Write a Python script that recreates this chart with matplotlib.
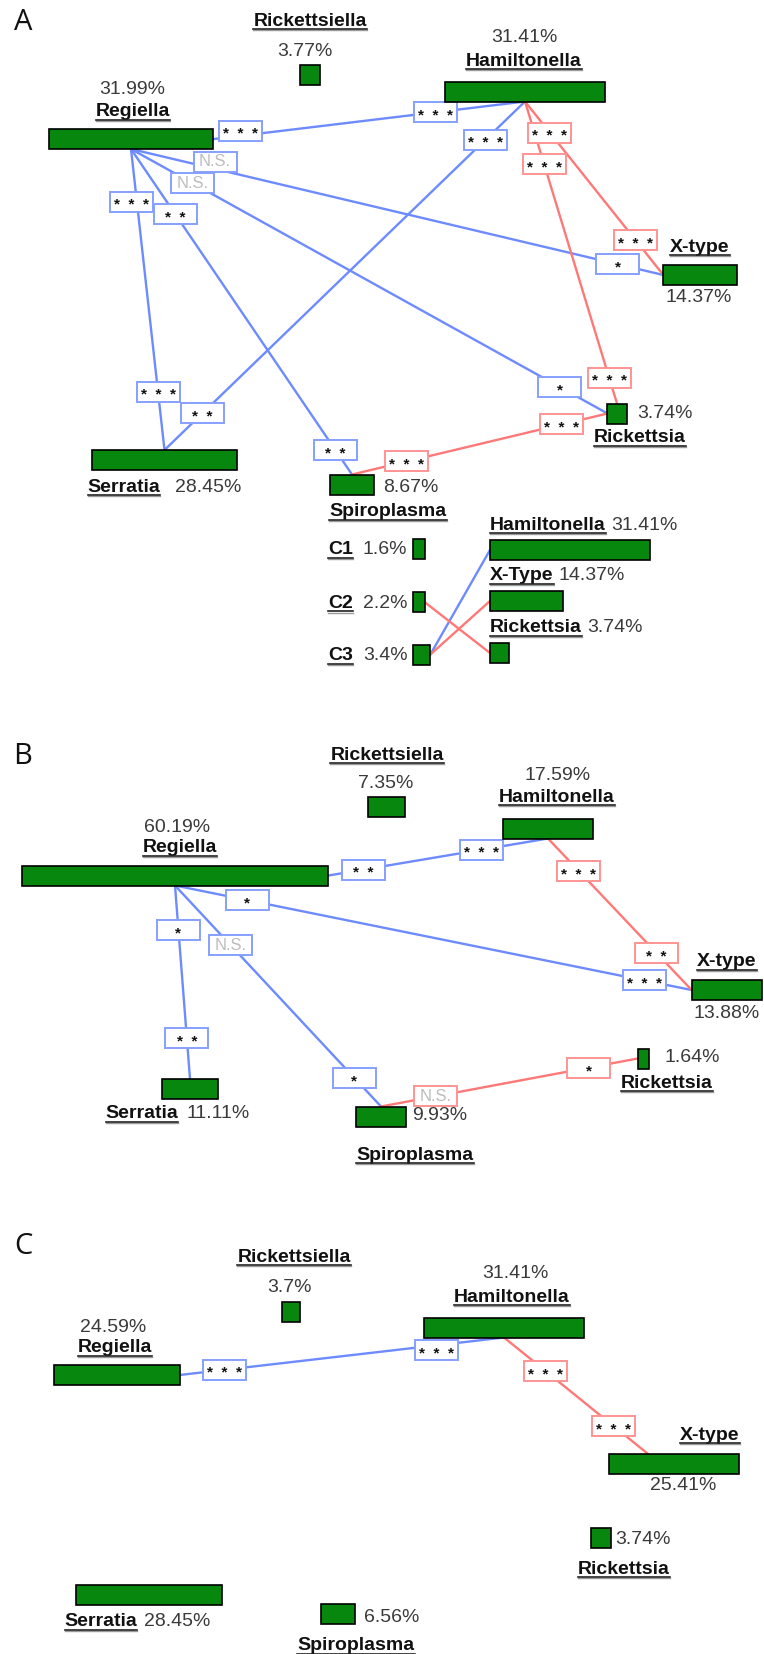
"""Symbiont co-occurrence networks for three sample sets (A, B, C)."""
import matplotlib
matplotlib.use("Agg")
import matplotlib.pyplot as plt
from matplotlib.patches import Rectangle

FIG_W, FIG_H = 764, 1654
PX_PER_PCT = 5.1
MIN_BAR = 11.5
BAR_H = 20

GREEN = "#07870d"
LINE = {"+": "#6d8bff", "-": "#ff7878"}
BOX_EDGE = {"+": "#86a0ff", "-": "#ff9494"}
SANS = ["Liberation Sans", "DejaVu Sans"]

# bar anchor points, as fractions of the bar box (x right, y down)
TOP, BOTTOM, LEFT, RIGHT = (0.5, 0.0), (0.5, 1.0), (0.0, 0.5), (1.0, 0.5)
NO_SHIFT = (0, 0)

# ---------------- data ----------------
taxa = ["Rickettsiella", "Regiella", "Hamiltonella", "X-type",
        "Rickettsia", "Serratia", "Spiroplasma"]

a_pct = [3.77, 31.99, 31.41, 14.37, 3.74, 28.45, 8.67]
a_pairs = [("Regiella", "Hamiltonella"), ("Regiella", "X-type"),
           ("Regiella", "Rickettsia"), ("Regiella", "Serratia"),
           ("Regiella", "Spiroplasma"), ("Hamiltonella", "Serratia"),
           ("Hamiltonella", "X-type"), ("Hamiltonella", "Rickettsia"),
           ("Spiroplasma", "Rickettsia")]
a_direction = ["+", "+", "+", "+", "+", "+", "-", "-", "-"]
a_sig = [("***", "***"), ("N.S.", "*"), ("N.S.", "*"), ("***", "***"),
         ("**", "**"), ("***", "**"), ("***", "***"), ("***", "***"),
         ("***", "***")]

inset_groups = ["C1", "C2", "C3"]
inset_group_pct = [1.6, 2.2, 3.4]
inset_taxa = ["Hamiltonella", "X-Type", "Rickettsia"]
inset_taxa_pct = [31.41, 14.37, 3.74]
inset_links = [("C3", "Hamiltonella"), ("C3", "X-Type"), ("C2", "Rickettsia")]
inset_direction = ["+", "-", "-"]

b_pct = [7.35, 60.19, 17.59, 13.88, 1.64, 11.11, 9.93]
b_pairs = [("Regiella", "Hamiltonella"), ("Regiella", "X-type"),
           ("Regiella", "Serratia"), ("Regiella", "Spiroplasma"),
           ("Hamiltonella", "X-type"), ("Spiroplasma", "Rickettsia")]
b_direction = ["+", "+", "+", "+", "-", "-"]
b_sig = [("**", "***"), ("*", "***"), ("*", "**"), ("N.S.", "*"),
         ("***", "**"), ("N.S.", "*")]

c_pct = [3.7, 24.59, 31.41, 25.41, 3.74, 28.45, 6.56]
c_pairs = [("Regiella", "Hamiltonella"), ("Hamiltonella", "X-type")]
c_direction = ["+", "-"]
c_sig = [("***", "***"), ("***", "***")]

# ---------------- layout (pixels, y down) ----------------
a_layout = {
    "Rickettsiella": dict(bar=(310, 74.5), name=(310, 21, "center"), pct=(305, 51, "center")),
    "Regiella": dict(bar=(131, 139), name=(133, 112, "center"), pct=(132, 90, "center")),
    "Hamiltonella": dict(bar=(525, 91.5), name=(524, 61, "center"), pct=(524, 37, "center")),
    "X-type": dict(bar=(700, 275), name=(700, 247, "center"), pct=(699, 298, "center")),
    "Rickettsia": dict(bar=(617, 413.5), name=(640, 438, "center"), pct=(637, 414, "left")),
    "Serratia": dict(bar=(164.5, 460), name=(124, 487, "center"), pct=(175, 487, "left")),
    "Spiroplasma": dict(bar=(352, 484.5), name=(388, 512, "center"), pct=(383, 488, "left")),
}
# (anchor 1, anchor 2, label 1 position, label 2 position, label 1 shift, label 2 shift)
a_edges = [(BOTTOM, BOTTOM, 0.277, 0.774, (0, -5), NO_SHIFT),
           (BOTTOM, LEFT, 0.158, 0.914, (0, -7), NO_SHIFT),
           (BOTTOM, LEFT, 0.13, 0.90, NO_SHIFT, NO_SHIFT),
           (BOTTOM, TOP, 0.176, 0.807, (-5, 0), NO_SHIFT),
           (BOTTOM, TOP, 0.2, 0.925, NO_SHIFT, NO_SHIFT),
           (BOTTOM, TOP, 0.11, 0.894, NO_SHIFT, NO_SHIFT),
           (BOTTOM, LEFT, 0.18, 0.80, NO_SHIFT, NO_SHIFT),
           (BOTTOM, TOP, 0.207, 0.914, NO_SHIFT, NO_SHIFT),
           (TOP, LEFT, 0.215, 0.82, NO_SHIFT, NO_SHIFT)]

b_layout = {
    "Rickettsiella": dict(bar=(386.5, 806.5), name=(387, 755, "center"), pct=(386, 784, "center")),
    "Regiella": dict(bar=(175, 875.5), name=(180, 848, "center"), pct=(177, 827, "center")),
    "Hamiltonella": dict(bar=(548, 828.5), name=(557, 797, "center"), pct=(558, 775, "center")),
    "X-type": dict(bar=(727, 990), name=(727, 962, "center"), pct=(727, 1014, "center")),
    "Rickettsia": dict(bar=(643.5, 1058.5), name=(667, 1083, "center"), pct=(665, 1058, "left")),
    "Serratia": dict(bar=(190, 1089), name=(142, 1114, "center"), pct=(187, 1114, "left")),
    "Spiroplasma": dict(bar=(381, 1116.5), name=(415, 1155, "center"), pct=(412, 1116, "left")),
}
b_edges = [(RIGHT, BOTTOM, 0.16, 0.695, NO_SHIFT, NO_SHIFT),
           (BOTTOM, LEFT, 0.14, 0.908, NO_SHIFT, NO_SHIFT),
           (BOTTOM, TOP, 0.23, 0.79, NO_SHIFT, NO_SHIFT),
           (BOTTOM, TOP, 0.27, 0.87, NO_SHIFT, NO_SHIFT),
           (BOTTOM, LEFT, 0.215, 0.756, NO_SHIFT, NO_SHIFT),
           (TOP, LEFT, 0.214, 0.81, NO_SHIFT, NO_SHIFT)]

c_layout = {
    "Rickettsiella": dict(bar=(291, 1311.5), name=(294, 1257, "center"), pct=(289, 1287, "center")),
    "Regiella": dict(bar=(117, 1375), name=(115, 1348, "center"), pct=(113, 1327, "center")),
    "Hamiltonella": dict(bar=(504, 1327.5), name=(512, 1297, "center"), pct=(515, 1274, "center")),
    "X-type": dict(bar=(674, 1464), name=(710, 1435, "center"), pct=(683, 1486, "center")),
    "Rickettsia": dict(bar=(601, 1537.5), name=(624, 1569, "center"), pct=(615, 1540, "left")),
    "Serratia": dict(bar=(149, 1595), name=(101, 1622, "center"), pct=(144, 1622, "left")),
    "Spiroplasma": dict(bar=(338, 1613.5), name=(356, 1646, "center"), pct=(364, 1617, "left")),
}
c_edges = [(RIGHT, BOTTOM, 0.137, 0.793, NO_SHIFT, (0, 5)),
           (BOTTOM, (0.3, 0.0), 0.29, 0.76, NO_SHIFT, NO_SHIFT)]


def bar_width(pct):
    return max(pct * PX_PER_PCT, MIN_BAR)


def draw_bar(ax, x0, cy, pct):
    w = bar_width(pct)
    ax.add_patch(Rectangle((x0, cy - BAR_H / 2), w, BAR_H, facecolor=GREEN,
                           edgecolor="black", linewidth=1.2, zorder=4))
    return (x0, cy - BAR_H / 2, w, BAR_H)


def anchor(box, frac):
    x0, y0, w, h = box
    return x0 + frac[0] * w, y0 + frac[1] * h


def name_text(ax, x, y, s, ha="center"):
    return ax.text(x, y, s, ha=ha, va="center", fontsize=14, fontweight="bold",
                   color="#111111", family=SANS, zorder=6)


def pct_text(ax, x, y, value, ha="center"):
    return ax.text(x, y, f"{value:g}%", ha=ha, va="center", fontsize=14,
                   color="#3a3a3a", family=SANS, zorder=6)


def sig_box(ax, x, y, sig, direction):
    ax.add_patch(Rectangle((x - 21.5, y - 10), 43, 20, facecolor="white",
                           edgecolor=BOX_EDGE[direction], linewidth=1.4, zorder=3))
    if sig == "N.S.":
        ax.text(x, y, sig, ha="center", va="center", fontsize=12,
                color="#bdbdbd", family=SANS, zorder=5)
    else:
        stars = "  ".join("*" * len(sig))
        ax.text(x, y + 7.5, stars, ha="center", va="baseline", fontsize=11,
                fontweight="bold", color="#111111", family=SANS, zorder=5)


def draw_panel(ax, pct, layout, pairs, direction, sig, edges):
    boxes, names = {}, []
    for taxon, value in zip(taxa, pct):
        spec = layout[taxon]
        cx, cy = spec["bar"]
        boxes[taxon] = draw_bar(ax, cx - bar_width(value) / 2, cy, value)
        nx, ny, nha = spec["name"]
        names.append(name_text(ax, nx, ny, taxon, nha))
        px, py, pha = spec["pct"]
        pct_text(ax, px, py, value, pha)
    for (n1, n2), d, (s1, s2), (a1, a2, t1, t2, o1, o2) in zip(pairs, direction, sig, edges):
        x1, y1 = anchor(boxes[n1], a1)
        x2, y2 = anchor(boxes[n2], a2)
        ax.plot([x1, x2], [y1, y2], color=LINE[d], linewidth=1.7,
                solid_capstyle="round", zorder=2)
        for t, s, (dx, dy) in ((t1, s1, o1), (t2, s2, o2)):
            sig_box(ax, x1 + t * (x2 - x1) + dx, y1 + t * (y2 - y1) + dy, s, d)
    return names


fig = plt.figure(figsize=(FIG_W / 100, FIG_H / 100), dpi=100)
ax = fig.add_axes([0, 0, 1, 1])
ax.set_xlim(0, FIG_W)
ax.set_ylim(FIG_H, 0)
ax.axis("off")

underlined = []
underlined += draw_panel(ax, a_pct, a_layout, a_pairs, a_direction, a_sig, a_edges)
underlined += draw_panel(ax, b_pct, b_layout, b_pairs, b_direction, b_sig, b_edges)
underlined += draw_panel(ax, c_pct, c_layout, c_pairs, c_direction, c_sig, c_edges)

for letter, (lx, ly) in zip("ABC", [(23, 22), (23, 757), (23, 1247)]):
    ax.text(lx, ly, letter, ha="center", va="center", fontsize=21,
            family=["Open Sans", "DejaVu Sans"], color="#111111")

# inset of panel A: clusters linked to the main symbionts
group_boxes, taxon_boxes = {}, {}
for g, value, gy in zip(inset_groups, inset_group_pct, [548.5, 602, 654.5]):
    group_boxes[g] = draw_bar(ax, 413, gy, value)
    underlined.append(name_text(ax, 328, gy + 1.5, g, "left"))
    pct_text(ax, 363, gy + 1.5, value, "left")

inset_names = []
for tname, value, ty in zip(inset_taxa, inset_taxa_pct, [550, 601, 653]):
    taxon_boxes[tname] = draw_bar(ax, 490, ty, value)
    inset_names.append((name_text(ax, 490, ty - 25, tname, "left"), value))
underlined += [t for t, _ in inset_names]

for (g, tname), d in zip(inset_links, inset_direction):
    x1, y1 = anchor(group_boxes[g], RIGHT)
    x2, y2 = anchor(taxon_boxes[tname], LEFT)
    ax.plot([x1, x2], [y1, y2], color=LINE[d], linewidth=1.7, zorder=2)

fig.canvas.draw()
renderer = fig.canvas.get_renderer()
inv = ax.transData.inverted()

# percentages following the inset names
for t, value in inset_names:
    bb = t.get_window_extent(renderer)
    x_end = inv.transform((bb.x1, bb.y0))[0]
    pct_text(ax, x_end + 5, t.get_position()[1], value, "left")

# underline every taxon name
for t in underlined:
    bb = t.get_window_extent(renderer)
    (ux0, uy), (ux1, _) = inv.transform([(bb.x0, bb.y0), (bb.x1, bb.y1)])
    ax.plot([ux0, ux1], [uy + 0.5, uy + 0.5], color="#9a9a9a", linewidth=1.0, zorder=6)
    ax.plot([ux0, ux1], [uy - 0.8, uy - 0.8], color="#222222", linewidth=1.2, zorder=6)

fig.savefig("out.png", dpi=100)
